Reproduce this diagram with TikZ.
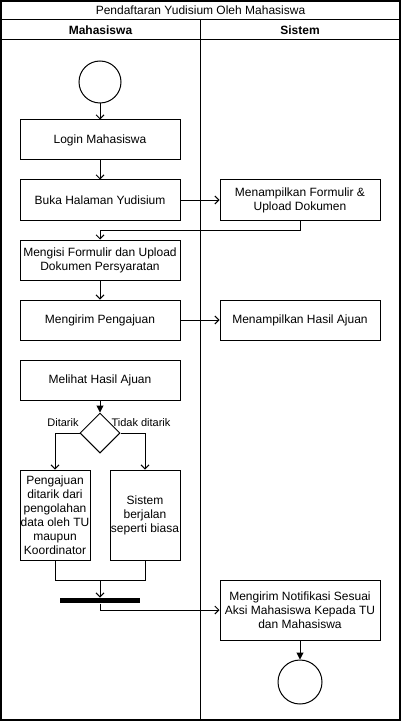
\documentclass[tikz,border=0pt]{standalone}
\usepackage{fontspec}
\setmainfont{Liberation Sans}
\usetikzlibrary{arrows.meta,shapes.geometric}

\begin{document}
\begin{tikzpicture}
  [x=1pt, y=-1pt, line width=1pt, font=\fontsize{12}{14}\selectfont,
   act/.style={draw, inner sep=0pt, minimum width=160pt, minimum height=40pt, align=center},
   flow/.style={-{Straight Barb[length=4pt,width=8pt]}},
   solid flow/.style={-{Triangle[length=7pt,width=7pt]}},
   guard/.style={font=\fontsize{11}{13}\selectfont, inner sep=0pt}]
  \useasboundingbox (0,0) rectangle (401,722);
  \draw[line width=1.5pt] (1,1) rectangle (400,720);
  \draw (1,20) -- (400,20) (1,40) -- (400,40) (200,20) -- (200,720);
  \node [name=pool] at (200.5,10.5) {Pendaftaran Yudisium Oleh Mahasiswa};
  \node [name=lanemhs, font=\fontsize{12}{14}\selectfont\bfseries] at (100.5,30.5) {Mahasiswa};
  \node [name=lanesys, font=\fontsize{12}{14}\selectfont\bfseries] at (300,30.5) {Sistem};

  \node [name=start, draw, circle, minimum size=42pt, inner sep=0pt] at (100,82) {};
  \node [name=login, act] at (100,140) {Login Mahasiswa};
  \node [name=buka, act] at (100,200) {Buka Halaman Yudisium};
  \node [name=formulir, act] at (300,200) {Menampilkan Formulir \&\\Upload Dokumen};
  \node [name=mengisi, act] at (100,260) {Mengisi Formulir dan Upload\\Dokumen Persyaratan};
  \node [name=kirim, act] at (100,320) {Mengirim Pengajuan};
  \node [name=hasil, act] at (300,320) {Menampilkan Hasil Ajuan};
  \node [name=lihat, act] at (100,380) {Melihat Hasil Ajuan};
  \node [name=cek, draw, diamond, minimum width=40pt, minimum height=40pt, inner sep=0pt] at (100,433) {};
  \node [name=ditarik, guard] at (63,423) {Ditarik};
  \node [name=tidak, guard] at (141,423) {Tidak ditarik};
  \node [name=tarik, act, minimum width=70pt, minimum height=90pt] at (55,515)
    {Pengajuan\\ditarik dari\\pengolahan\\data oleh TU\\maupun\\Koordinator};
  \node [name=biasa, act, minimum width=70pt, minimum height=90pt] at (145,515)
    {Sistem\\berjalan\\seperti biasa};
  \node [name=bar, fill, minimum width=80pt, minimum height=5pt, inner sep=0pt] at (100,600.5) {};
  \node [name=notif, act, minimum height=60pt] at (300,610)
    {Mengirim Notifikasi Sesuai\\Aksi Mahasiswa Kepada TU\\dan Mahasiswa};
  \node [name=finish, draw, circle, minimum size=44pt, inner sep=0pt] at (300,682) {};
  \coordinate (gabung) at (100,580);

  \draw[flow] (start) -- (login);
  \draw[flow] (login) -- (buka);
  \draw[flow] (buka) -- (formulir);
  \draw[flow] (formulir.south) -- ++(0,10) -| (mengisi.north);
  \draw[flow] (mengisi) -- (kirim);
  \draw[flow] (kirim) -- (hasil);
  \draw[solid flow] (lihat) -- (cek);
  \draw[flow] (cek.west) -| (tarik.north);
  \draw[flow] (cek.east) -| (biasa.north);
  \draw (tarik.south) |- (gabung);
  \draw (biasa.south) |- (gabung);
  \draw[flow] (gabung) -- (bar);
  \draw[flow] (bar.south) |- (notif.west);
  \draw[solid flow] (notif) -- (finish);
\end{tikzpicture}
\end{document}
